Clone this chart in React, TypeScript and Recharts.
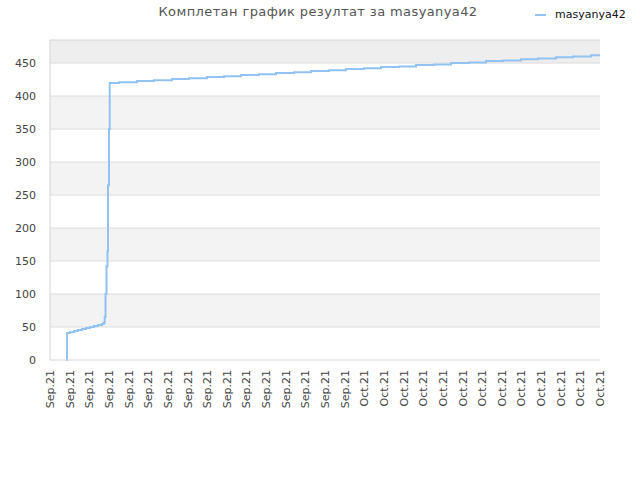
import React from "react";
import {
  LineChart,
  Line,
  XAxis,
  YAxis,
  ReferenceArea,
  ReferenceLine,
} from "recharts";

// x position in tick steps (0..28), score value
const times = [
  0.815, 0.866, 1.018, 1.222, 1.425, 1.629, 1.833, 2.036, 2.24, 2.444, 2.647,
  2.749, 2.785, 2.826, 2.876, 2.927, 2.953, 3.004, 3.04, 3.513, 4.429, 5.294,
  6.211, 7.076, 7.993, 8.858, 9.724, 10.64, 11.505, 12.422, 13.287, 14.204,
  15.069, 15.985, 16.851, 17.767, 18.633, 19.549, 20.414, 21.331, 22.196,
  23.062, 23.978, 24.844, 25.76, 26.625, 27.542, 28,
];
const scores = [
  0, 41, 42, 44, 45.5, 47, 48.5, 50, 51.5, 53, 55, 57, 65, 100, 142, 165, 265,
  350, 420, 421, 423, 424, 426, 427, 429, 430, 432, 433, 435, 436, 438, 439,
  441, 442, 444, 445, 447, 448, 450, 451, 453, 454, 456, 457, 459, 460, 462,
  462,
];

const tickLabels = [
  ...Array(16).fill("Sep.21"),
  ...Array(13).fill("Oct.21"),
];
const yTicks = [0, 50, 100, 150, 200, 250, 300, 350, 400, 450];
const yMax = 485;
const bands = [
  [50, 100, "#f3f3f3"],
  [150, 200, "#f3f3f3"],
  [250, 300, "#f3f3f3"],
  [350, 400, "#f3f3f3"],
  [450, 485, "#eeeeee"],
] as const;

const data = times.map((t, i) => ({ t, v: scores[i] }));
const xTicks = tickLabels.map((_, i) => i);

const XTick = (props: any) => {
  const { x, y, payload } = props;
  return (
    <text
      transform={`translate(${x + 4}, ${y + 2}) rotate(-90)`}
      textAnchor="end"
      fontSize={11}
      fill="#444"
      fontFamily="DejaVu Sans"
    >
      {tickLabels[payload.value]}
    </text>
  );
};

export default function App() {
  return (
    <div
      style={{
        position: "absolute",
        left: 0,
        top: 0,
        width: 640,
        height: 480,
        background: "#fff",
        fontFamily: "DejaVu Sans",
      }}
    >
      <div
        style={{
          position: "absolute",
          top: 4,
          left: 0,
          width: 636,
          textAlign: "center",
          fontSize: 13,
          color: "#555",
          letterSpacing: 0.4,
        }}
      >
        Комплетан график резултат за masyanya42
      </div>
      <div
        style={{
          position: "absolute",
          top: 8,
          left: 535,
          fontSize: 11,
          color: "#111",
          display: "flex",
          alignItems: "center",
        }}
      >
        <span
          style={{
            display: "inline-block",
            width: 11,
            height: 2,
            background: "#90c3f2",
            marginRight: 9,
          }}
        />
        masyanya42
      </div>
      <LineChart
        width={640}
        height={480}
        data={data}
        margin={{ top: 40, right: 40, bottom: 60, left: 0 }}
      >
        {bands.map(([y1, y2, fill], i) => (
          <ReferenceArea
            key={`band-${i}`}
            y1={y1}
            y2={y2}
            fill={fill}
            fillOpacity={1}
            stroke="none"
            ifOverflow="visible"
          />
        ))}
        {yTicks.slice(1).map((v) => (
          <ReferenceLine key={`grid-${v}`} y={v} stroke="#dcdcdc" />
        ))}
        <ReferenceLine y={yMax} stroke="#d4d4d4" ifOverflow="visible" />
        <XAxis
          dataKey="t"
          type="number"
          domain={[0, 28]}
          ticks={xTicks}
          interval={0}
          tick={<XTick />}
          tickLine={false}
          axisLine={{ stroke: "#d4d4d4" }}
          height={60}
        />
        <YAxis
          type="number"
          domain={[0, yMax]}
          ticks={yTicks}
          interval={0}
          width={50}
          tickLine={false}
          axisLine={{ stroke: "#d4d4d4" }}
          tick={{ fontSize: 11, fill: "#444", fontFamily: "DejaVu Sans" }}
          tickMargin={8}
        />
        <YAxis
          yAxisId="right"
          orientation="right"
          width={0}
          tick={false}
          tickLine={false}
          axisLine={{ stroke: "#d4d4d4" }}
        />
        <Line
          type="stepAfter"
          dataKey="v"
          stroke="#90c3f2"
          strokeWidth={2}
          dot={false}
          isAnimationActive={false}
        />
      </LineChart>
    </div>
  );
}
